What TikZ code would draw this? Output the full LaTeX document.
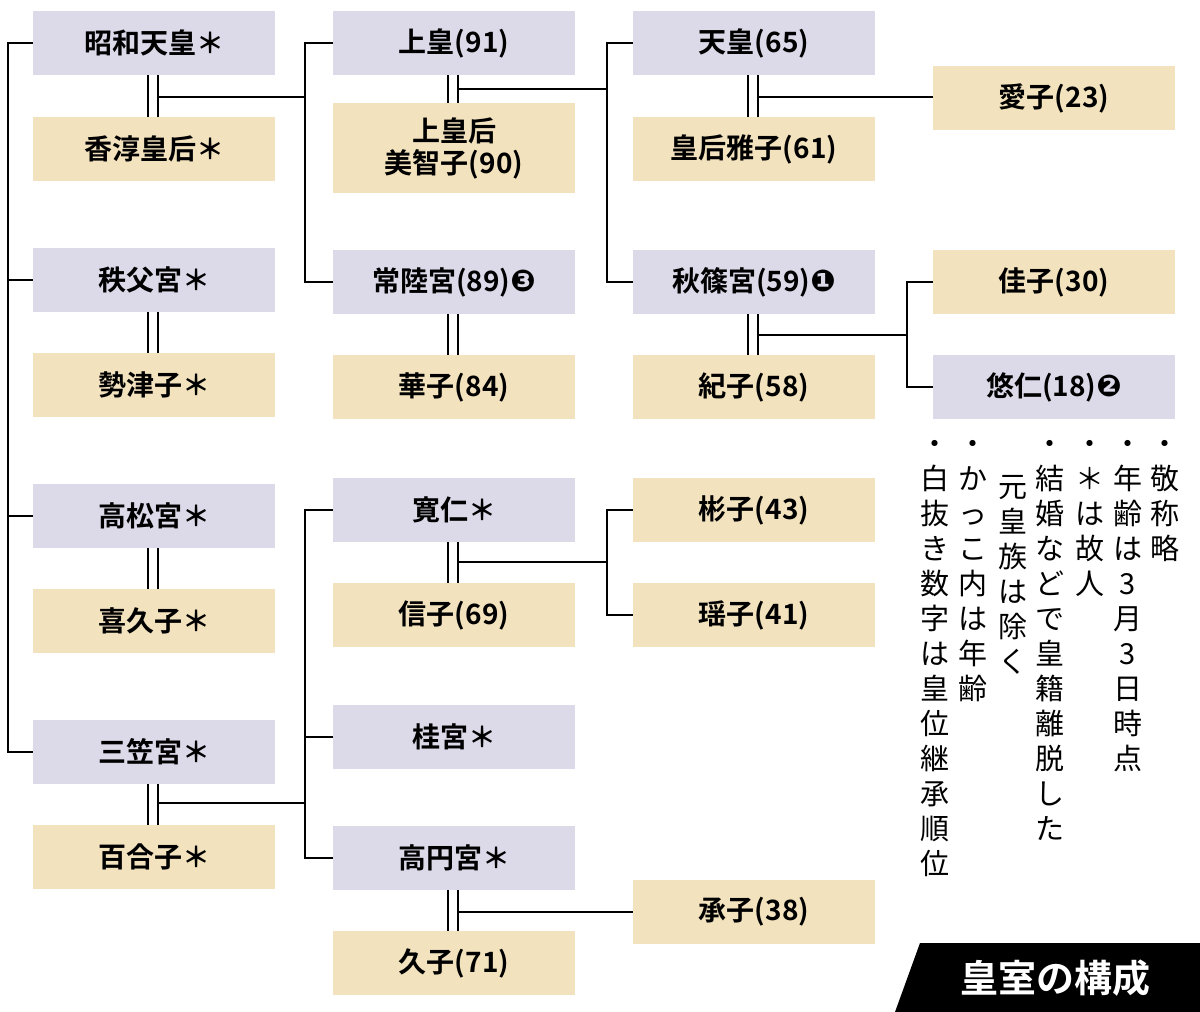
\documentclass[tikz,border=0pt]{standalone}
\usepackage{fontspec}
\newfontfamily\cjk{Noto Sans CJK JP}[BoldFont={* Bold}]
\newfontfamily\djv{DejaVu Sans}
\newcommand\cn[1]{{\djv\fontsize{30}{30}\selectfont #1}}
\begin{document}
\begin{tikzpicture}[x=1pt,y=-1pt,
 bx/.style={minimum width=242pt,inner sep=0pt,font=\cjk\bfseries\fontsize{28}{30}\selectfont,align=center},
 m/.style={bx,fill=lav}, f/.style={bx,fill=bei},
 ln/.style={line width=1.6pt},
 nt/.style={anchor=north,inner sep=0pt,align=center,font=\cjk\fontsize{29}{35}\selectfont}]
\definecolor{lav}{HTML}{DCDAE9}\definecolor{bei}{HTML}{F2E2BE}
\useasboundingbox (0,0) rectangle (1200,1012);
\newcommand\bx[6]{\node[#5,minimum height={#4-#3}] (#1) at (#2+121,{(#3+#4)/2}) {#6};}
% column 1
\bx{a1}{33}{11}{75}{m}{昭和天皇＊}
\bx{a2}{33}{117}{181}{f}{香淳皇后＊}
\bx{a3}{33}{248}{312}{m}{秩父宮＊}
\bx{a4}{33}{353}{417}{f}{勢津子＊}
\bx{a5}{33}{484}{548}{m}{高松宮＊}
\bx{a6}{33}{589}{653}{f}{喜久子＊}
\bx{a7}{33}{720}{784}{m}{三笠宮＊}
\bx{a8}{33}{825}{889}{f}{百合子＊}
% column 2
\bx{b1}{333}{11}{75}{m}{上皇(91)}
\bx{b2}{333}{103}{193}{f}{上皇后\\[2pt]美智子(90)}
\bx{b3}{333}{250}{314}{m}{常陸宮(89)\cn{❸}}
\bx{b4}{333}{355}{419}{f}{華子(84)}
\bx{b5}{333}{478}{542}{m}{寛仁＊}
\bx{b6}{333}{583}{647}{f}{信子(69)}
\bx{b7}{333}{705}{769}{m}{桂宮＊}
\bx{b8}{333}{826}{890}{m}{高円宮＊}
\bx{b9}{333}{931}{995}{f}{久子(71)}
% column 3
\bx{c1}{633}{11}{75}{m}{天皇(65)}
\bx{c2}{633}{117}{181}{f}{皇后雅子(61)}
\bx{c3}{633}{250}{314}{m}{秋篠宮(59)\cn{❶}}
\bx{c4}{633}{355}{419}{f}{紀子(58)}
\bx{c5}{633}{478}{542}{f}{彬子(43)}
\bx{c6}{633}{583}{647}{f}{瑶子(41)}
\bx{c7}{633}{880}{944}{f}{承子(38)}
% column 4
\bx{d1}{933}{66}{130}{f}{愛子(23)}
\bx{d2}{933}{250}{314}{f}{佳子(30)}
\bx{d3}{933}{355}{419}{m}{悠仁(18)\cn{❷}}
% left trunk
\draw[ln] (a1.west) -- (8,43) -- (8,752) -- (a7.west);
\draw[ln] (8,280) -- (a3.west); \draw[ln] (8,516) -- (a5.west);
% double lines
\newcommand\dbl[3]{\draw[ln] (#1-5,#2) -- (#1-5,#3) (#1+5,#2) -- (#1+5,#3);}
\dbl{153}{75}{117}\dbl{153}{312}{353}\dbl{153}{548}{589}\dbl{153}{784}{825}
\dbl{453}{75}{103}\dbl{453}{314}{355}\dbl{453}{542}{583}\dbl{453}{890}{931}
\dbl{753}{75}{117}\dbl{753}{314}{355}
% children
\draw[ln] (158,97) -- (305,97); \draw[ln] (b1.west) -- (305,43) -- (305,282) -- (b3.west);
\draw[ln] (458,89) -- (607,89); \draw[ln] (c1.west) -- (607,43) -- (607,282) -- (c3.west);
\draw[ln] (758,97) -- (d1.west |- 0,97);
\draw[ln] (758,335) -- (907,335); \draw[ln] (d2.west) -- (907,282) -- (907,387) -- (d3.west);
\draw[ln] (158,803) -- (305,803); \draw[ln] (b5.west) -- (305,510) -- (305,858) -- (b8.west);
\draw[ln] (305,737) -- (b7.west);
\draw[ln] (458,562) -- (607,562); \draw[ln] (c5.west) -- (607,510) -- (607,615) -- (c6.west);
\draw[ln] (458,912) -- (c7.west |- 0,912);
% notes
\node[nt] (n1) at (1165,440) {・\\敬\\称\\略};
\node[nt] (n2) at (1128,440) {・\\年\\齢\\は\\3\\月\\3\\日\\時\\点};
\node[nt] (n3) at (1090,440) {・\\＊\\は\\故\\人};
\node[nt] (n4) at (1050,440) {・\\結\\婚\\な\\ど\\で\\皇\\籍\\離\\脱\\し\\た};
\node[nt] (n5) at (1013,475) {元\\皇\\族\\は\\除\\く};
\node[nt] (n6) at (973,440) {・\\か\\っ\\こ\\内\\は\\年\\齢};
\node[nt] (n7) at (935,440) {・\\白\\抜\\き\\数\\字\\は\\皇\\位\\継\\承\\順\\位};
% title
\fill[black] (920,943) -- (1200,943) -- (1200,1012) -- (895,1012) -- cycle;
\node[text=white,font=\cjk\bfseries\fontsize{38}{40}\selectfont] (t) at (1055,978) {皇室の構成};
\end{tikzpicture}
\end{document}
